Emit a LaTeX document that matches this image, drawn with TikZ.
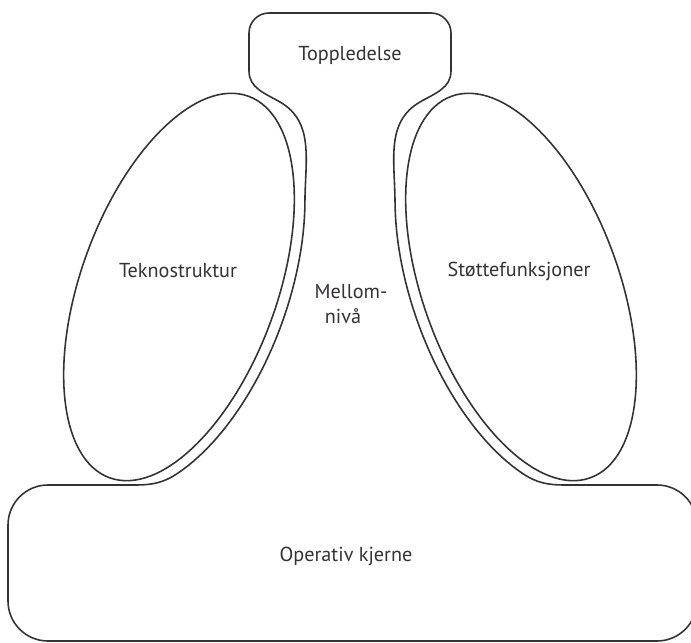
\documentclass[tikz,border=0pt]{standalone}
\usepackage{fontspec}
\setmainfont{PT Sans}
\usepackage{xcolor}
\definecolor{inkGray}{RGB}{52,50,52}

\begin{document}
\begin{tikzpicture}[x=0.02cm,y=0.02cm,
  outline/.style={draw=inkGray,line width=0.9pt,line join=round},
  partlabel/.style={font=\fontsize{11.5}{14}\selectfont,text=inkGray,inner sep=0pt}]
\useasboundingbox (0,0) rectangle (691,643);
% operating core, middle line and apex as one outline
\draw[outline] (135,158) to[out=0,in=-146] (177.8,169.8)
  -- plot[domain=-55:35,samples=40,variable=\t]
     ({179+73.2*sin(\t)+102.5*cos(\t)},{356+201.2*sin(\t)-37.3*cos(\t)})
  to[out=90,in=-30] (280,541) to[out=150,in=-90] (249,572)
  -- (249,610) arc[start angle=180,end angle=90,radius=20]
  -- (431,630) arc[start angle=90,end angle=0,radius=20]
  -- (451,572) to[out=-90,in=30] (420,541) to[out=-150,in=90] (395,441)
  -- plot[domain=35:-55,samples=40,variable=\t]
     ({521-73.2*sin(\t)-102.5*cos(\t)},{356+201.2*sin(\t)-37.3*cos(\t)})
  to[out=-34,in=180] (565,158)
  -- (657,158) arc[start angle=90,end angle=0,radius=40]
  -- (697,42) arc[start angle=0,end angle=-90,radius=40]
  -- (48,2) arc[start angle=270,end angle=180,radius=40]
  -- (8,118) arc[start angle=180,end angle=90,radius=40]
  -- cycle;
% the two staff parts
\draw[outline,rotate around={-20:(179,356)}] (179,356) ellipse[x radius=98,y radius=203];
\draw[outline,rotate around={20:(521,356)}] (521,356) ellipse[x radius=98,y radius=203];
% labels
\node[partlabel] (apex) at (350,588) {Toppledelse};
\node[partlabel] (tekno) at (178,372) {Teknostruktur};
\node[partlabel] (stotte) at (519,372) {Støttefunksjoner};
\node[partlabel,align=left] (mellom) at (351,339) {Mellom-\\\hspace*{0.5em}nivå};
\node[partlabel] (kjerne) at (346,87) {Operativ kjerne};
\end{tikzpicture}
\end{document}
